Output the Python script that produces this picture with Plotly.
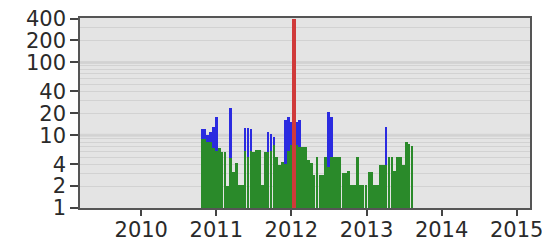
import pandas as pd
import plotly.graph_objects as go

# 14-day bins, first bin centred on 2010-10-23
bin_start = "2010-10-23"
n_bins = 74

green_vals = [9, 9, 8, 8, 6.6, 6, 6.7, 5.9, 5.9, 2,
              4.9, 3.1, 4.2, 2.1, 2.1, 6, 5, 6, 5.9, 6.3,
              6.3, 2.1, 5.9, 5.9, 6, 7.4, 5, 3.9, 4.3, 4,
              6, 7.4, 7, 7.4, 6.9, 6.9, 6.9, 4.5, 4.2, 2.8,
              5, 2.8, 2.8, 5, 3.7, 5, 5, 5, 5, 3,
              3, 3.2, 2.1, 2.1, 5, 2.1, 2.1, 2.1, 3.1, 3.1,
              2.1, 2.1, 3.9, 3.9, 3.9, 5, 5, 3.2, 5, 5,
              3.9, 8, 7.5, 7]

blue_vals = [12, 12, 10, 11, 13, 18, None, None, None, None,
             24, None, None, None, None, 12.6, 12.6, 12, None, None,
             None, None, None, 11, 10.5, 9.5, None, None, None, 16,
             18, 15, None, 15, 16, None, None, None, None, None,
             None, None, None, None, 21, 18, None, None, None, None,
             None, None, None, None, None, None, None, None, None, None,
             None, None, None, None, 13, None, None, None, None, None,
             None, None, None, None]

red_bin = 32
red_val = 400

y_tick_vals = [1, 2, 4, 10, 20, 40, 100, 200, 400]
x_tick_years = [2010, 2011, 2012, 2013, 2014, 2015]
major_grid = [10, 100]

dates = pd.date_range(bin_start, periods=n_bins, freq="14D")
bar_w = 14 * 86400000 * 0.92

fig = go.Figure()
fig.add_trace(go.Bar(x=dates, y=blue_vals, width=bar_w,
                     marker=dict(color="#2b2be0", line=dict(width=0))))
fig.add_trace(go.Bar(x=dates, y=green_vals, width=bar_w,
                     marker=dict(color="#2a8a2a", line=dict(width=0))))
fig.add_trace(go.Bar(x=[dates[red_bin]], y=[red_val], width=bar_w * 1.2,
                     marker=dict(color="#d03a3a", line=dict(width=0))))

for g in major_grid:
    fig.add_shape(type="line", xref="paper", x0=0, x1=1, yref="y", y0=g, y1=g,
                  line=dict(color="#d4d4d4", width=3), layer="below")

fig.update_layout(
    width=542, height=234,
    margin=dict(l=72, r=20, t=10, b=34),
    paper_bgcolor="white",
    plot_bgcolor="#e4e4e4",
    barmode="overlay",
    bargap=0,
    showlegend=False,
    font=dict(family="DejaVu Sans", size=21, color="#2a2a2a"),
)

fig.update_xaxes(
    type="date",
    automargin=False,
    ticklabeloverflow="allow",
    ticklabelstandoff=-4,
    range=["2009-03-09", "2015-03-07"],
    tickvals=[f"{y}-01-01" for y in x_tick_years],
    ticktext=[str(y) for y in x_tick_years],
    ticks="outside", ticklen=6, tickwidth=1.5, tickcolor="#444",
    showline=True, linecolor="#555", linewidth=1.5, mirror=True,
    showgrid=False, zeroline=False,
    tickfont=dict(size=21, color="#2a2a2a"),
)

fig.update_yaxes(
    type="log",
    automargin=False,
    ticklabeloverflow="allow",
    range=[0, 2.61],
    tickvals=y_tick_vals,
    ticktext=[str(v) for v in y_tick_vals],
    ticks="outside", ticklen=8, tickwidth=1.5, tickcolor="#444",
    showline=True, linecolor="#555", linewidth=1.5, mirror=True,
    showgrid=False, zeroline=False,
    minor=dict(dtick="D1", showgrid=True, gridcolor="#d2d2d2", gridwidth=1, ticks=""),
    tickfont=dict(size=21, color="#2a2a2a"),
)

fig.write_html("out.html")
